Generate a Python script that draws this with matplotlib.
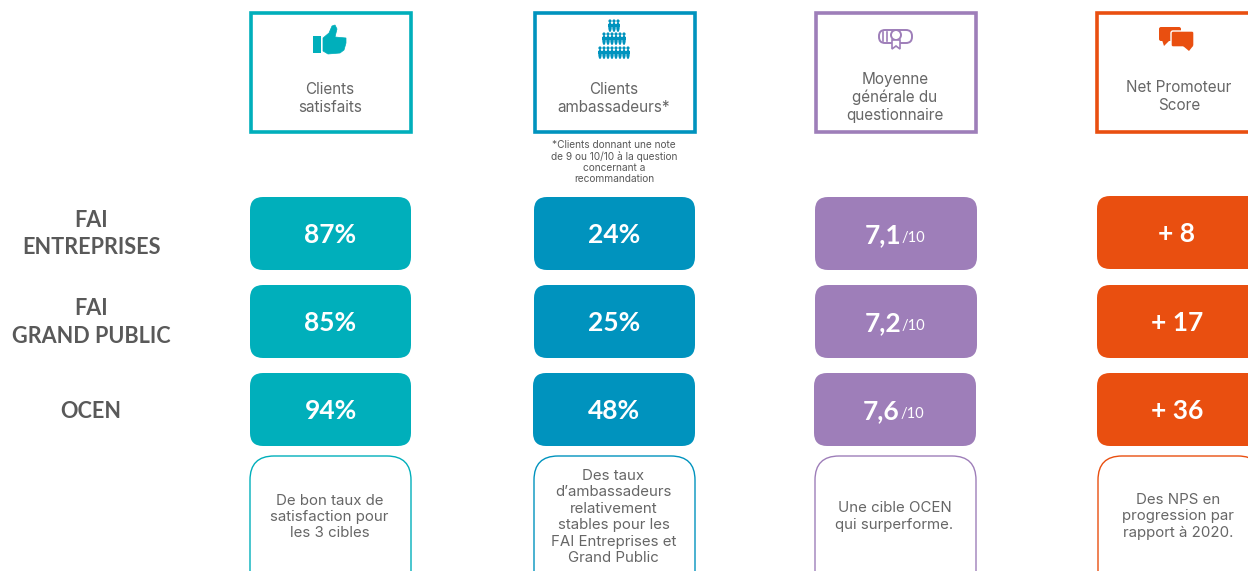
import matplotlib
matplotlib.use('Agg')
import matplotlib.pyplot as plt
from matplotlib.patches import FancyBboxPatch, Rectangle, Polygon, Circle, Ellipse

plt.rcParams['font.family'] = ['Lato', 'DejaVu Sans']
light = ['Inter', 'DejaVu Sans']

# data
rows = ['FAI\nENTREPRISES', 'FAI\nGRAND PUBLIC', 'OCEN']
satisfaits = [87, 85, 94]
ambassadeurs = [24, 25, 48]
moyenne = [7.1, 7.2, 7.6]
nps = [8, 17, 36]
headers = ['Clients\nsatisfaits', 'Clients\nambassadeurs*',
           'Moyenne\ngénérale du\nquestionnaire', 'Net Promoteur\nScore']
footnote = '*Clients donnant une note\nde 9 ou 10/10 à la question\nconcernant a\nrecommandation'
notes = ['De bon taux de\nsatisfaction pour\nles 3 cibles',
         'Des taux\nd’ambassadeurs\nrelativement\nstables pour les\nFAI Entreprises et\nGrand Public',
         'Une cible OCEN\nqui surperforme.',
         'Des NPS en\nprogression par\nrapport à 2020.']
colors = ['#00AFBB', '#0093BE', '#9E7EB9', '#E94F10']
grey = '#595959'
txt = '#666666'

fig = plt.figure(figsize=(12.48, 5.71), dpi=100)
ax = fig.add_axes([0, 0, 1, 1])
ax.set_xlim(0, 1248)
ax.set_ylim(571, 0)
ax.axis('off')


def rbox(x0, y0, x1, y1, r, fc, ec='none', lw=0):
    p = FancyBboxPatch((x0 + r, y0 + r), x1 - x0 - 2 * r, y1 - y0 - 2 * r,
                       boxstyle='round,pad=%d,rounding_size=%d' % (r, r),
                       fc=fc, ec=ec, lw=lw)
    ax.add_patch(p)


# left edges of each column, per block
head_x = [(251, 411), (535, 695), (816, 976), (1097, 1262)]
val_x = [[(250, 411)] * 3, [(534, 695), (534, 695), (533, 695)],
         [(815, 977), (815, 977), (814, 976)], [(1097, 1262)] * 3]
val_y = [(197, 270), (285, 358), (373, 446)]
note_x = [(250, 411), (534, 695), (815, 976), (1098, 1262)]
head_ty = [98, 98, 97.5, 97]

# row labels
row_y = [234, 322.5, 412]
for lab, y in zip(rows, row_y):
    ax.text(91, y, lab, ha='center', va='center', fontsize=15.6, fontweight='bold',
            color=grey, linespacing=1.36)

# header boxes
for i in range(4):
    x0, x1 = head_x[i]
    ax.add_patch(Rectangle((x0, 13), x1 - x0, 119, fc='white', ec=colors[i], lw=2.6))
    ax.text((x0 + x1) / 2 - 1 if i < 3 else 1179, head_ty[i], headers[i], ha='center', va='center',
            fontsize=11, color=txt, linespacing=1.25, family=light)

ax.text(614, 162, footnote, ha='center', va='center', fontsize=7.3, color=grey,
        linespacing=1.12, family=light)

# value boxes
labels = [['%d%%' % v for v in satisfaits],
          ['%d%%' % v for v in ambassadeurs],
          [('%.1f' % v).replace('.', ',') for v in moyenne],
          ['+ %d' % v for v in nps]]
for i in range(4):
    for j in range(3):
        x0, x1 = val_x[i][j]
        y0, y1 = val_y[j]
        if i == 3 and j == 0:
            y0, y1 = 196, 269
        rbox(x0, y0, x1, y1, 13, colors[i])
        yc = (y0 + y1) / 2 + 1.5
        if i == 2:
            ax.text(x0 + 86, yc, labels[i][j], ha='right', va='center', fontsize=19,
                    fontweight='bold', color='white')
            ax.text(x0 + 87, yc + 3, '/10', ha='left', va='center', fontsize=10.5, color='white')
        else:
            xc = (x0 + x1) / 2 if i < 3 else 1177
            ax.text(xc, yc, labels[i][j], ha='center', va='center', fontsize=19,
                    fontweight='bold', color='white')

# note boxes, cut by the bottom of the picture
for i in range(4):
    x0, x1 = note_x[i]
    rbox(x0, 456, x1, 600, 24, 'white', ec=colors[i], lw=1.0)
    ty = [517, 517, 516.5, 516.5][i]
    ax.text((x0 + x1) / 2 - 1 if i < 3 else 1178, ty, notes[i], ha='center', va='center',
            fontsize=10.8, color=txt, linespacing=1.22, family=light)

# thumb icon
c = colors[0]
ax.add_patch(Rectangle((313, 36), 8, 17, fc=c, ec='none'))
ax.add_patch(Polygon([(323, 38), (329, 33), (332, 26), (335, 25), (337, 29), (335, 37),
                      (346, 38), (346, 43), (344, 50), (340, 53), (328, 54), (323, 51)],
                     closed=True, fc=c, ec=c, lw=0.5, joinstyle='round'))

# people pyramid icon
c = colors[1]
for py, xs in [(26, [610, 614, 618]),
               (39, [604, 608, 612, 616, 620, 624]),
               (53, [600, 604, 608, 612, 616, 620, 624, 628])]:
    for px in xs:
        ax.add_patch(Circle((px, py - 5), 1.6, fc=c, ec='none'))
        ax.add_patch(Ellipse((px, py + 1), 3.4, 10, fc=c, ec='none'))
    ax.add_patch(Rectangle((min(xs) - 2, py - 2), max(xs) - min(xs) + 4, 2.5, fc=c, ec='none'))

# diploma icon
c = colors[2]
rbox(879, 30, 912, 43, 6, 'none', ec=c, lw=1.4)
ax.add_patch(Circle((896, 35), 5, fc='white', ec=c, lw=1.4))
ax.add_patch(Polygon([(892, 40), (892, 49), (896, 46), (900, 49), (900, 40)],
                     closed=True, fc='white', ec=c, lw=1.2))
ax.plot([883, 883], [32, 41], color=c, lw=1.2)
ax.plot([887, 887], [32, 41], color=c, lw=1.2)

# speech bubbles icon
c = colors[3]
rbox(1159, 27, 1181, 41, 2, c)
ax.add_patch(Polygon([(1162, 40), (1170, 40), (1164, 46)], closed=True, fc=c, ec='none'))
rbox(1171, 31, 1194, 47, 2, c, ec='white', lw=1)
ax.add_patch(Polygon([(1183, 46), (1193, 46), (1189, 51)], closed=True, fc=c, ec='none'))

fig.savefig('out.png', dpi=100, facecolor='white')
